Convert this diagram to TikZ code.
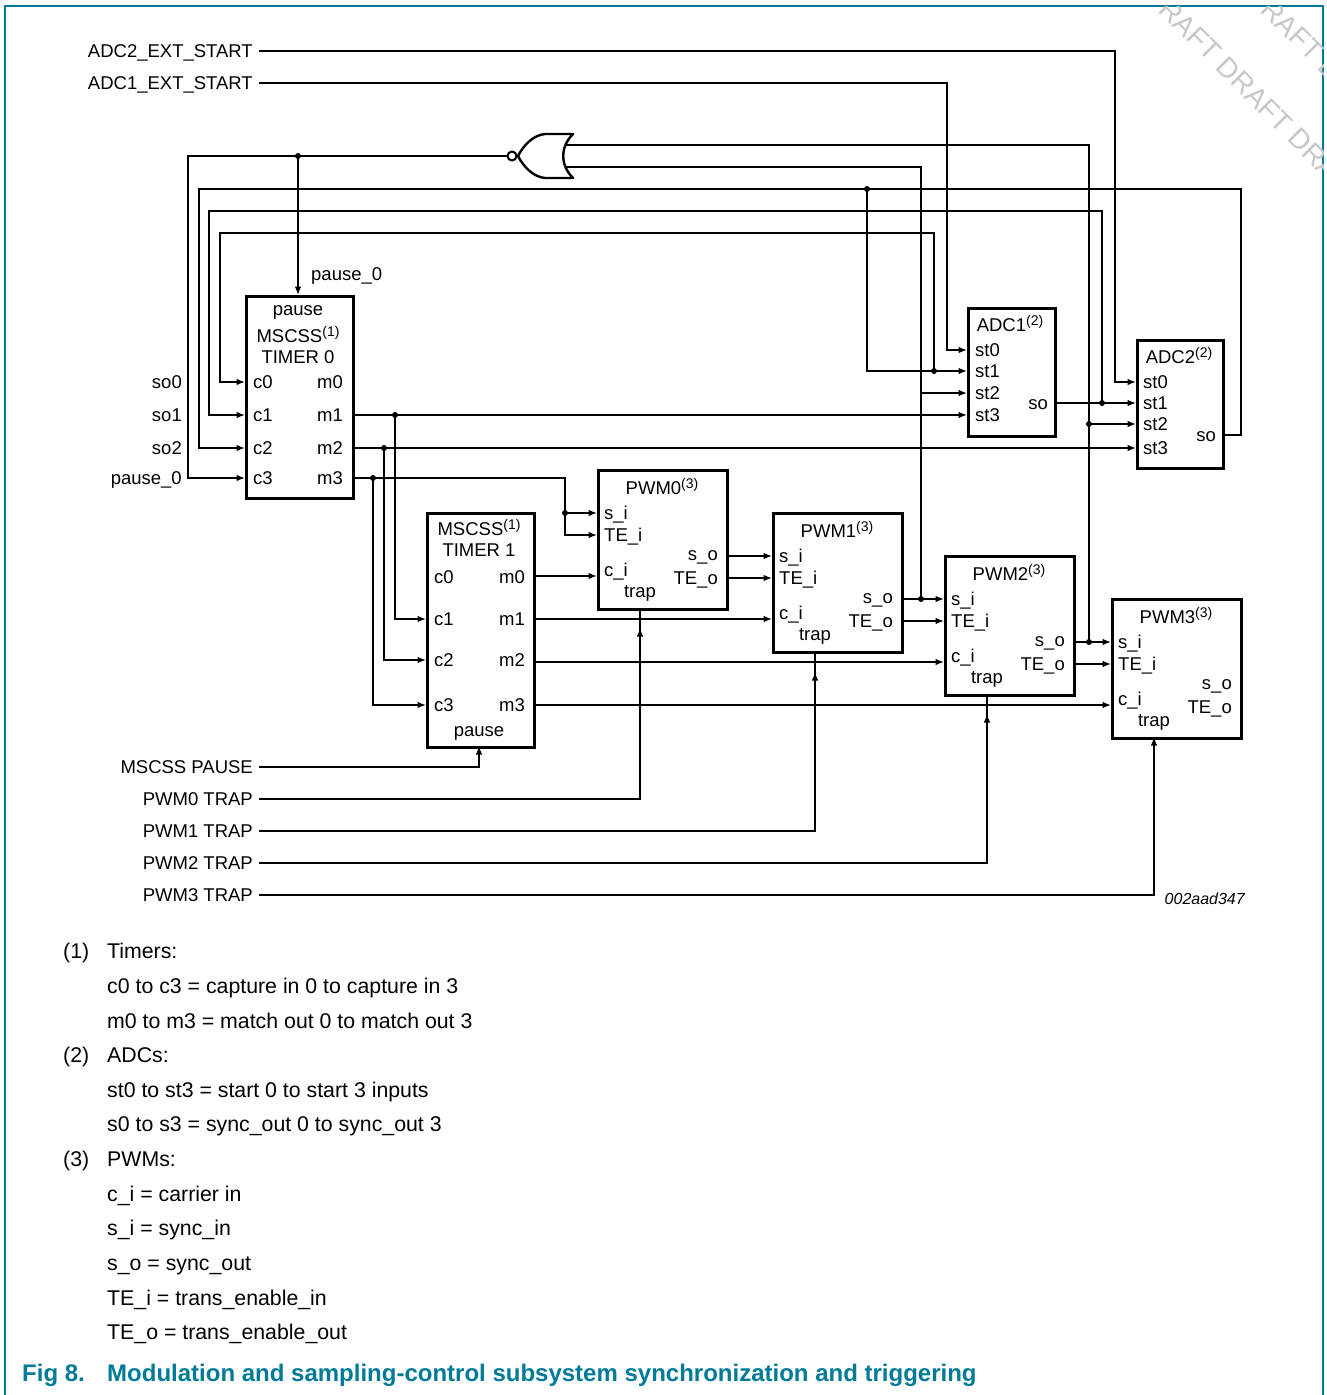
\documentclass[tikz,border=0pt]{standalone}
\usepackage{fontspec}
\setmainfont{Liberation Sans}
\usetikzlibrary{arrows.meta}
\definecolor{nxpteal}{RGB}{0,122,153}
\newcommand\supn[1]{\raisebox{6.5pt}{\fontsize{14}{14}\selectfont #1}}
\newcommand\PWMblock[4]{%
  \node[blk,minimum width=129pt,minimum height=139pt] (#1) at (#2,#3) {};
  \node[lbl] (#1-t) at (#2+65,#3+19) {PWM#4\supn{(3)}};
  \node[lbl,anchor=mid west] (#1-lsi) at (#2+7,#3+44) {s\_i};
  \node[lbl,anchor=mid west] (#1-ltei) at (#2+7,#3+66) {TE\_i};
  \node[lbl,anchor=mid east] (#1-lso) at (#2+121,#3+85) {s\_o};
  \node[lbl,anchor=mid west] (#1-lci) at (#2+7,#3+101) {c\_i};
  \node[lbl,anchor=mid east] (#1-lteo) at (#2+121,#3+109) {TE\_o};
  \node[lbl] (#1-ltrap) at (#2+43,#3+122) {trap};
  \coordinate (#1-si) at (#2,#3+44);
  \coordinate (#1-tei) at (#2,#3+66);
  \coordinate (#1-ci) at (#2,#3+107);
  \coordinate (#1-so) at (#2+129,#3+87);
  \coordinate (#1-teo) at (#2+129,#3+109);
  \coordinate (#1-tr) at (#2+43,#3+139);
}
\begin{document}
\begin{tikzpicture}[x=1pt,y=-1pt,
  wire/.style={line width=1.3pt},
  arr/.style={line width=1.3pt,-{Latex[length=8.5pt,width=6.5pt]}},
  blk/.style={draw,line width=2.6pt,inner sep=0pt,anchor=north west},
  lbl/.style={font=\fontsize{18.5}{20}\selectfont,inner sep=0pt,anchor=mid,yshift=-4pt},
  note/.style={font=\fontsize{21.3}{24}\selectfont,inner sep=0pt,anchor=mid west,yshift=-5pt},
  captxt/.style={font=\bfseries\fontsize{24}{26}\selectfont,text=nxpteal,inner sep=0pt,anchor=mid west,yshift=-6pt},
  jdot/.style={circle,fill,inner sep=0pt,minimum size=6pt},
  wm/.style={font=\fontsize{28}{30}\selectfont,text=black!22,inner sep=0pt,anchor=west,rotate=-45},
  lstart/.style={xshift=6pt,yshift=4pt},
]
\useasboundingbox (0,0) rectangle (1326,1395);
% frame
\draw[nxpteal,line width=1.5pt] (5,1395) -- (5,6) -- (1323,6) -- (1323,1395);
% watermark
\begin{scope}
\clip (5,6) rectangle (1323,1395);
\node[wm] (wm1) at (1150,-10) {DRAFT DRAFT DRAFT};
\node[wm] (wm2) at (1252,-10) {DRAFT DRAFT};
\end{scope}

% ---------- blocks ----------
\node[blk,minimum width=107pt,minimum height=202pt] (T0) at (245,295) {};
\node[lbl] (T0-a) at (298,309) {pause};
\node[lbl] (T0-b) at (298,336) {MSCSS\supn{(1)}};
\node[lbl] (T0-c) at (298,357) {TIMER 0};
\node[lbl,anchor=mid west] (T0-lc0) at (253,382) {c0};
\node[lbl,anchor=mid west] (T0-lc1) at (253,415) {c1};
\node[lbl,anchor=mid west] (T0-lc2) at (253,448) {c2};
\node[lbl,anchor=mid west] (T0-lc3) at (253,478) {c3};
\node[lbl,anchor=mid east] (T0-lm0) at (343,382) {m0};
\node[lbl,anchor=mid east] (T0-lm1) at (343,415) {m1};
\node[lbl,anchor=mid east] (T0-lm2) at (343,448) {m2};
\node[lbl,anchor=mid east] (T0-lm3) at (343,478) {m3};
\coordinate (T0-c0) at (245,382);
\coordinate (T0-c1) at (245,415);
\coordinate (T0-c2) at (245,448);
\coordinate (T0-c3) at (245,478);
\coordinate (T0-m1) at (352,415);
\coordinate (T0-m2) at (352,448);
\coordinate (T0-m3) at (352,478);
\coordinate (T0-p) at (298,295);

\node[blk,minimum width=107pt,minimum height=234pt] (T1) at (426,512) {};
\node[lbl] (T1-b) at (479,529) {MSCSS\supn{(1)}};
\node[lbl] (T1-c) at (479,550) {TIMER 1};
\node[lbl,anchor=mid west] (T1-lc0) at (434,577) {c0};
\node[lbl,anchor=mid west] (T1-lc1) at (434,619) {c1};
\node[lbl,anchor=mid west] (T1-lc2) at (434,660) {c2};
\node[lbl,anchor=mid west] (T1-lc3) at (434,705) {c3};
\node[lbl,anchor=mid east] (T1-lm0) at (525,577) {m0};
\node[lbl,anchor=mid east] (T1-lm1) at (525,619) {m1};
\node[lbl,anchor=mid east] (T1-lm2) at (525,660) {m2};
\node[lbl,anchor=mid east] (T1-lm3) at (525,705) {m3};
\node[lbl] (T1-a) at (479,730) {pause};
\coordinate (T1-c1) at (426,619);
\coordinate (T1-c2) at (426,660);
\coordinate (T1-c3) at (426,705);
\coordinate (T1-m0) at (533,576);
\coordinate (T1-m1) at (533,619);
\coordinate (T1-m2) at (533,662);
\coordinate (T1-m3) at (533,705);
\coordinate (T1-p) at (479,746);

\node[blk,minimum width=87pt,minimum height=128pt] (A1) at (967,307) {};
\node[lbl] (A1-t) at (1010,325) {ADC1\supn{(2)}};
\node[lbl,anchor=mid west] (A1-l0) at (975,350) {st0};
\node[lbl,anchor=mid west] (A1-l1) at (975,371) {st1};
\node[lbl,anchor=mid west] (A1-l2) at (975,393) {st2};
\node[lbl,anchor=mid west] (A1-l3) at (975,415) {st3};
\node[lbl,anchor=mid east] (A1-lso) at (1048,403) {so};
\coordinate (A1-st0) at (967,350);
\coordinate (A1-st1) at (967,371);
\coordinate (A1-st2) at (967,393);
\coordinate (A1-st3) at (967,415);
\coordinate (A1-so) at (1054,403);

\node[blk,minimum width=86pt,minimum height=128pt] (A2) at (1136,339) {};
\node[lbl] (A2-t) at (1179,357) {ADC2\supn{(2)}};
\node[lbl,anchor=mid west] (A2-l0) at (1143,382) {st0};
\node[lbl,anchor=mid west] (A2-l1) at (1143,403) {st1};
\node[lbl,anchor=mid west] (A2-l2) at (1143,424) {st2};
\node[lbl,anchor=mid west] (A2-l3) at (1143,448) {st3};
\node[lbl,anchor=mid east] (A2-lso) at (1216,435) {so};
\coordinate (A2-st0) at (1136,382);
\coordinate (A2-st1) at (1136,403);
\coordinate (A2-st2) at (1136,424);
\coordinate (A2-st3) at (1136,448);
\coordinate (A2-so) at (1222,435);

\PWMblock{P0}{597}{469}{0}
\PWMblock{P1}{772}{512}{1}
\PWMblock{P2}{944}{555}{2}
\PWMblock{P3}{1111}{598}{3}

% ---------- NOR gate ----------
\draw[line width=2.4pt,line join=round] (573,134) -- (545,134)
  .. controls (533,135) and (523,146) .. (518,156)
  .. controls (523,166) and (533,177) .. (545,178) -- (573,178)
  .. controls (560,165) and (560,147) .. (573,134) -- cycle;
\draw[line width=2pt] (512,156) circle (4.5pt);
\coordinate (norout) at (507.5,156);
\coordinate (norin1) at (566,145);
\coordinate (norin2) at (566,167);

% ---------- labels outside ----------
\node[lbl,anchor=mid east] (l-a2) at (253,51) {ADC2\_EXT\_START};
\node[lbl,anchor=mid east] (l-a1) at (253,83) {ADC1\_EXT\_START};
\node[lbl,anchor=mid west] (l-pz) at (311,274) {pause\_0};
\node[lbl,anchor=mid east] (l-so0) at (182,382) {so0};
\node[lbl,anchor=mid east] (l-so1) at (182,415) {so1};
\node[lbl,anchor=mid east] (l-so2) at (182,448) {so2};
\node[lbl,anchor=mid east] (l-p0) at (182,478) {pause\_0};
\node[lbl,anchor=mid east] (l-pause) at (253,767) {MSCSS PAUSE};
\node[lbl,anchor=mid east] (l-tr0) at (253,799) {PWM0 TRAP};
\node[lbl,anchor=mid east] (l-tr1) at (253,831) {PWM1 TRAP};
\node[lbl,anchor=mid east] (l-tr2) at (253,863) {PWM2 TRAP};
\node[lbl,anchor=mid east] (l-tr3) at (253,895) {PWM3 TRAP};
\node[font=\itshape\fontsize{16}{18}\selectfont,inner sep=0pt,anchor=mid east,yshift=-3pt] (id) at (1245,899) {002aad347};

% ---------- junctions ----------
\coordinate (j-pause) at (298,156);
\coordinate (j-so0) at (934,371);
\coordinate (j-so2) at (867,189);
\coordinate (j-so1) at (1102,403);
\coordinate (j-a2st2) at (1089,424);
\coordinate (j-a1st2) at (921,393);
\coordinate (j-m1) at (395,415);
\coordinate (j-m2) at (384,448);
\coordinate (j-m3) at (373,478);
\coordinate (j-m3b) at (565,513);
\coordinate (j-p1) at (921,599);
\coordinate (j-p2) at (1089,642);

% ---------- wires ----------
\draw[arr] ([lstart]l-a2.mid east) -| ([xshift=-21pt]A2-st0) -- (A2-st0);
\draw[arr] ([lstart]l-a1.mid east) -| ([xshift=-20pt]A1-st0) -- (A1-st0);

\draw[arr] (norout) -| ([xshift=-57pt]T0-c3) -- (T0-c3);
\draw[arr] (j-pause) -- (T0-p);

\draw[wire] (norin1) -| (j-p2);
\draw[arr] (j-a2st2) -- (A2-st2);
\draw[wire] (norin2) -| (j-p1);
\draw[arr] (j-a1st2) -- (A1-st2);

\draw[arr] (j-so0) -- (934,233) -| ([xshift=-25pt]T0-c0) -- (T0-c0);
\draw[arr] (A2-so) -- (1241,435) -- (1241,189) -| ([xshift=-46pt]T0-c2) -- (T0-c2);
\draw[arr] (j-so2) |- (A1-st1);
\draw[arr] (A1-so) -- (A2-st1);
\draw[arr] (j-so1) -- (1102,211) -| ([xshift=-36pt]T0-c1) -- (T0-c1);

\draw[arr] (T0-m1) -- (A1-st3);
\draw[arr] (j-m1) |- (T1-c1);
\draw[arr] (T0-m2) -- (A2-st3);
\draw[arr] (j-m2) |- (T1-c2);
\draw[arr] (T0-m3) -| ([xshift=-32pt]P0-tei) -- (P0-tei);
\draw[arr] (j-m3b) -- (P0-si);
\draw[arr] (j-m3) |- (T1-c3);

\draw[arr] (T1-m0) -- (P0-ci);
\draw[arr] (T1-m1) -- (P1-ci);
\draw[arr] (T1-m2) -- (P2-ci);
\draw[arr] (T1-m3) -- (P3-ci);

\draw[arr] (P0-so) -- (P1-si);
\draw[arr] (P0-teo) -- (P1-tei);
\draw[arr] (P1-so) -- (P2-si);
\draw[arr] (P1-teo) -- (P2-tei);
\draw[arr] (P2-so) -- (P3-si);
\draw[arr] (P2-teo) -- (P3-tei);

\draw[arr] ([lstart]l-pause.mid east) -| (T1-p);
\draw[wire] ([lstart]l-tr0.mid east) -| (P0-tr);
\draw[arr] (P0-tr |- 0,799) -- ([yshift=-20pt]P0-tr);
\draw[wire] ([lstart]l-tr1.mid east) -| (P1-tr);
\draw[arr] (P1-tr |- 0,831) -- ([yshift=-21pt]P1-tr);
\draw[wire] ([lstart]l-tr2.mid east) -| (P2-tr);
\draw[arr] (P2-tr |- 0,863) -- ([yshift=-20pt]P2-tr);
\draw[arr] ([lstart]l-tr3.mid east) -| (P3-tr);

\foreach \j in {j-pause,j-so0,j-so2,j-so1,j-a2st2,j-m1,j-m2,j-m3,j-m3b,j-p1,j-p2}
  \node[jdot] at (\j) {};

% ---------- notes ----------
\node[note] (n1) at (63,951) {(1)};
\node[note] (n1a) at (107,951) {Timers:};
\node[note] (n1b) at (107,986) {c0 to c3 = capture in 0 to capture in 3};
\node[note] (n1c) at (107,1021) {m0 to m3 = match out 0 to match out 3};
\node[note] (n2) at (63,1055) {(2)};
\node[note] (n2a) at (107,1055) {ADCs:};
\node[note] (n2b) at (107,1090) {st0 to st3 = start 0 to start 3 inputs};
\node[note] (n2c) at (107,1124) {s0 to s3 = sync\_out 0 to sync\_out 3};
\node[note] (n3) at (63,1159) {(3)};
\node[note] (n3a) at (107,1159) {PWMs:};
\node[note] (n3b) at (107,1194) {c\_i = carrier in};
\node[note] (n3c) at (107,1228) {s\_i = sync\_in};
\node[note] (n3d) at (107,1263) {s\_o = sync\_out};
\node[note] (n3e) at (107,1298) {TE\_i = trans\_enable\_in};
\node[note] (n3f) at (107,1332) {TE\_o = trans\_enable\_out};
\node[captxt] (capn) at (22,1373) {Fig 8.};
\node[captxt] (capt) at (107,1373) {Modulation and sampling-control subsystem synchronization and triggering};
\end{tikzpicture}
\end{document}
